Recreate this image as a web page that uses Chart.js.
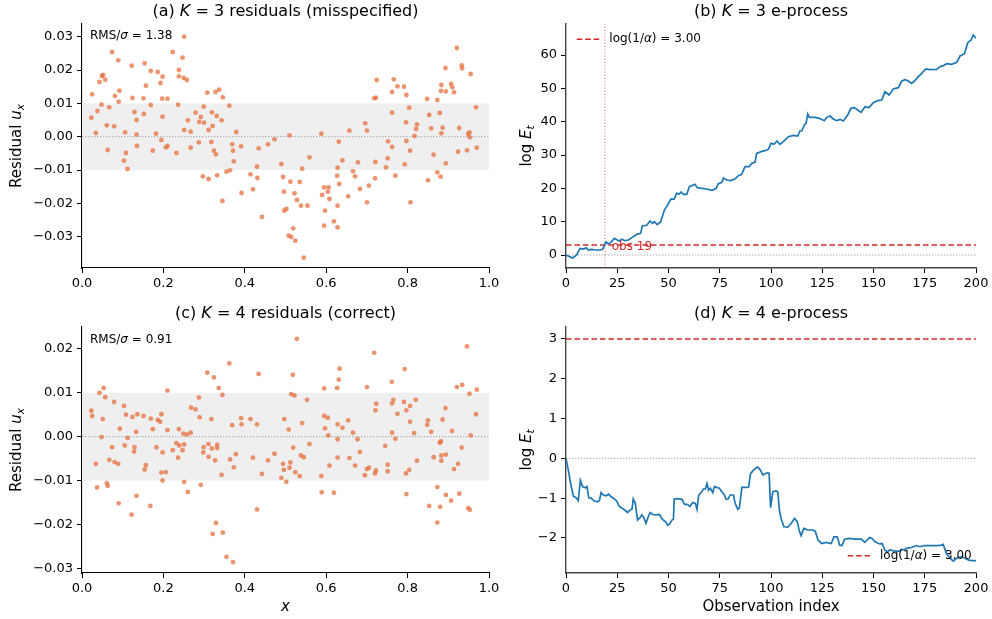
<!DOCTYPE html>
<html><head><meta charset="utf-8">
<script src="https://cdn.jsdelivr.net/npm/chart.js@4.4.1/dist/chart.umd.min.js"></script>
<style>
html,body{margin:0;padding:0;background:#fff;}
#fig{position:relative;width:992px;height:619px;overflow:hidden;background:#fff;}
canvas{position:absolute;}
</style></head><body>
<div id="fig">
<canvas id="ca" width="520" height="300" style="left:0;top:0"></canvas>
<canvas id="cb" width="496" height="300" style="left:496px;top:0"></canvas>
<canvas id="cc" width="520" height="319" style="left:0;top:300px"></canvas>
<canvas id="cd" width="496" height="319" style="left:496px;top:300px"></canvas>
</div>
<script>
// ---------- data: panel (a) K=3 residuals ----------
const aX = [0.251,0.074,0.223,0.089,0.247,0.122,0.154,0.169,0.186,0.238,0.052,0.049,0.057,0.043,0.198,0.238,0.250,0.258,0.193,0.157,0.025,0.092,0.081,0.090,0.124,0.151,0.197,0.210,0.308,0.328,0.337,0.048,0.169,0.236,0.067,0.299,0.038,0.129,0.152,0.279,0.319,0.023,0.198,0.292,0.331,0.134,0.260,0.288,0.300,0.061,0.079,0.321,0.251,0.311,0.034,0.106,0.267,0.134,0.182,0.195,0.287,0.318,0.135,0.210,0.206,0.267,0.063,0.174,0.324,0.329,0.108,0.232,0.103,0.112,0.297,0.311,0.332,
0.346,0.362,0.343,0.379,0.369,0.371,0.391,0.373,0.364,0.355,0.345,0.392,0.414,0.420,0.430,0.431,0.434,0.442,0.457,0.473,0.490,0.494,0.496,0.497,0.502,0.510,0.512,0.519,0.508,0.514,0.524,0.522,0.528,0.535,0.538,0.541,0.545,0.554,0.559,0.588,0.590,0.595,0.597,0.595,0.604,0.606,0.608,0.619,0.628,0.628,0.627,0.628,0.631,0.632,0.640,0.654,0.657,0.666,0.671,0.678,0.683,
0.700,0.705,0.696,0.700,0.718,0.722,0.724,0.721,0.720,0.752,0.762,0.751,0.747,0.770,0.762,0.762,0.766,0.775,0.791,0.797,0.804,0.796,0.797,0.806,0.793,0.807,0.821,0.823,0.817,0.848,0.853,0.858,0.864,0.873,0.873,0.850,0.881,0.879,0.883,0.886,0.882,0.883,0.894,0.893,0.894,0.907,0.910,0.914,0.921,0.933,0.934,0.955,0.927,0.924,0.946,0.949,0.952,0.953,0.968,0.970];
const aY = [0.0300,0.0254,0.0254,0.0229,0.0237,0.0213,0.0220,0.0197,0.0194,0.0200,0.0185,0.0182,0.0171,0.0164,0.0180,0.0181,0.0176,0.0170,0.0161,0.0153,0.0127,0.0138,0.0122,0.0105,0.0116,0.0115,0.0114,0.0114,0.0132,0.0134,0.0141,0.0096,0.0095,0.0096,0.0088,0.0090,0.0077,0.0074,0.0068,0.0072,0.0073,0.0057,0.0060,0.0059,0.0062,0.0050,0.0049,0.0044,0.0042,0.0034,0.0031,0.0032,0.0020,0.0020,0.0011,0.0013,0.0015,0.0006,0.0009,-0.0010,-0.0017,-0.0016,-0.0028,-0.0028,-0.0032,-0.0033,-0.0040,-0.0042,-0.0042,-0.0053,-0.0049,-0.0049,-0.0072,-0.0097,-0.0119,-0.0127,-0.0116,
0.0118,0.0093,0.0049,0.0014,-0.0023,-0.0042,-0.0029,-0.0074,-0.0101,-0.0105,-0.0193,-0.0169,-0.0113,-0.0158,-0.0090,-0.0124,-0.0035,-0.0241,-0.0023,-0.0008,-0.0082,-0.0121,-0.0165,-0.0222,-0.0217,0.0004,-0.0135,-0.0275,-0.0297,-0.0301,-0.0312,-0.0170,-0.0190,-0.0136,-0.0207,-0.0096,-0.0363,-0.0207,-0.0062,0.0009,-0.0175,-0.0152,-0.0222,-0.0267,-0.0165,-0.0152,-0.0187,-0.0254,-0.0272,-0.0207,-0.0117,-0.0093,-0.0015,-0.0142,-0.0071,-0.0179,0.0018,-0.0104,-0.0119,-0.0077,-0.0157,
-0.0197,-0.0147,0.0040,0.0018,0.0115,0.0117,0.0170,-0.0076,-0.0125,-0.0014,-0.0031,-0.0065,-0.0092,-0.0117,0.0072,0.0134,0.0172,0.0151,0.0150,0.0125,0.0087,0.0043,-0.0013,-0.0042,-0.0083,-0.0197,0.0023,0.0037,0.0002,0.0113,0.0065,0.0025,-0.0054,0.0110,-0.0107,-0.0131,-0.0120,0.0071,0.0010,0.0027,0.0137,0.0155,0.0136,0.0206,-0.0080,0.0158,0.0148,0.0133,0.0266,0.0214,0.0205,0.0188,0.0026,-0.0045,-0.0041,0.0008,0.0013,-0.0002,0.0088,-0.0033];

// ---------- data: panel (c) K=4 residuals ----------
const cX = [0.308,0.324,0.336,0.053,0.043,0.057,0.079,0.210,0.287,0.023,0.025,0.051,0.103,0.108,0.124,0.136,0.151,0.169,0.186,0.192,0.195,0.268,0.279,0.289,0.318,0.093,0.133,0.174,0.210,0.238,0.249,0.258,0.267,0.048,0.112,0.074,0.105,0.129,0.128,0.183,0.198,0.223,0.232,0.239,0.247,0.251,0.236,0.299,0.298,0.311,0.319,0.311,0.327,0.332,0.332,0.034,0.067,0.080,0.089,0.154,0.157,0.195,0.206,0.198,0.251,0.260,0.292,0.037,0.061,0.063,0.090,0.134,0.168,0.122,0.329,0.321,
0.345,0.362,0.434,0.528,0.518,0.514,0.522,0.553,0.369,0.391,0.392,0.414,0.430,0.497,0.508,0.541,0.364,0.378,0.373,0.343,0.420,0.457,0.473,0.442,0.519,0.494,0.496,0.512,0.510,0.490,0.502,0.524,0.535,0.538,0.545,0.559,0.430,0.346,0.355,0.371,0.595,0.627,0.631,0.633,0.595,0.604,0.597,0.605,0.628,0.640,0.654,0.666,0.677,0.628,0.628,0.657,0.608,0.671,0.683,0.588,0.589,0.619,
0.718,0.700,0.793,0.761,0.723,0.721,0.765,0.762,0.775,0.791,0.797,0.806,0.820,0.806,0.762,0.770,0.816,0.745,0.751,0.751,0.700,0.705,0.695,0.722,0.720,0.804,0.796,0.823,0.797,0.848,0.850,0.858,0.893,0.886,0.909,0.879,0.882,0.864,0.883,0.894,0.883,0.914,0.924,0.933,0.955,0.921,0.934,0.952,0.970,0.946,0.968,0.873,0.894,0.907,0.927,0.853,0.880,0.949,0.953,0.873];
const cY = [0.0146,0.0135,0.0111,0.0111,0.0100,0.0090,0.0079,0.0105,0.0089,0.0059,0.0047,0.0040,0.0070,0.0050,0.0045,0.0051,0.0047,0.0041,0.0038,0.0034,0.0051,0.0066,0.0062,0.0044,0.0040,0.0018,0.0011,0.0017,0.0015,0.0017,0.0007,0.0005,0.0009,-0.0001,-0.0003,-0.0024,-0.0020,-0.0024,-0.0034,-0.0024,-0.0036,-0.0031,-0.0015,-0.0020,-0.0031,-0.0018,-0.0048,-0.0024,-0.0036,-0.0017,-0.0027,-0.0046,-0.0054,-0.0019,-0.0026,-0.0062,-0.0053,-0.0058,-0.0062,-0.0075,-0.0065,-0.0082,-0.0081,-0.0100,-0.0103,-0.0126,-0.0110,-0.0116,-0.0106,-0.0112,-0.0152,-0.0135,-0.0158,-0.0178,-0.0197,-0.0222,
0.0095,0.0167,0.0143,0.0223,0.0141,0.0097,0.0094,0.0084,0.0026,0.0042,0.0028,0.0040,0.0028,0.0040,0.0016,0.0031,-0.0052,-0.0040,-0.0070,-0.0087,-0.0048,-0.0054,-0.0039,-0.0085,-0.0025,-0.0062,-0.0076,-0.0059,-0.0071,-0.0094,-0.0103,-0.0081,-0.0090,-0.0043,-0.0047,-0.0017,-0.0166,-0.0219,-0.0274,-0.0286,0.0110,0.0111,0.0130,0.0155,0.0047,0.0043,0.0019,0.0003,0.0028,0.0020,0.0037,0.0009,-0.0006,-0.0006,-0.0048,-0.0049,-0.0066,-0.0066,-0.0035,-0.0090,-0.0127,-0.0128,
0.0191,0.0113,0.0154,0.0125,0.0075,0.0060,0.0084,0.0076,0.0052,0.0079,0.0060,0.0070,0.0084,0.0034,0.0009,-0.0005,0.0008,-0.0021,-0.0064,-0.0079,-0.0074,-0.0071,-0.0088,-0.0077,-0.0084,-0.0076,-0.0084,-0.0055,-0.0131,0.0027,0.0037,0.0011,0.0065,0.0039,0.0013,-0.0014,-0.0011,-0.0047,-0.0043,-0.0041,-0.0055,-0.0074,-0.0062,-0.0025,0.0003,0.0113,0.0118,0.0098,0.0107,0.0206,0.0051,-0.0115,-0.0133,-0.0146,-0.0130,-0.0158,-0.0160,-0.0163,-0.0167,-0.0196];

// ---------- data: panel (b) K=3 e-process (log E_t) ----------
const bT = [0,3.3,5.2,6.8,8.5,9.8,10.9,12.5,14.1,16.6,17.9,18.7,19.5,20.6,21.8,23.6,25,26,27.2,28.8,30.4,31.6,32.8,34.5,36.4,37.2,39.4,41,42.3,43.1,44.5,46.2,48,49.4,51.2,52.7,54,55.3,56.1,57.2,58.9,60.2,62.9,64.1,66.2,68.6,71.1,73.2,74.3,76,76.8,78.4,80.3,82.4,84.1,85.7,87.3,89.4,90.6,92.2,93,95.5,97.1,98.7,100,101.6,102.9,104.4,106,108.5,110.9,113,114.1,115,116.3,117.1,117.9,118.7,121.5,123.6,126,127.2,128.8,130.4,132,133.7,135.3,137.4,139,140.6,142.3,143.9,145.9,147.8,149.9,152,154,155.6,157.6,159.7,162.1,163.8,165.4,167,168.6,170.2,171.9,173.5,175.5,177.6,180.8,182.4,184,185.7,188.1,190.6,192.2,194.3,196,197.6,198.7,200];
const bV = [0,-0.9,0,2.0,1.8,2.2,1.5,1.7,1.5,1.5,1.7,2.9,3.9,3.3,3.7,5.0,4.5,4.2,4.7,4.3,4.5,5.0,5.5,6.2,6.5,8.7,8.9,10.2,9.5,10.0,9.1,10.0,13.5,14.8,16.8,16.7,18.5,18.3,18.9,18.2,18.2,20.5,21.2,20.2,20.0,19.8,19.4,19.9,21.4,21.8,23.1,22.5,22.3,22.8,23.8,24.2,26.5,26.5,27.5,27.8,30.5,31.1,31.3,31.7,33.5,33.3,34.2,33.2,34.0,35.5,35.9,35.7,37.2,37.2,39.0,39.5,42.3,41.3,41.3,41.0,40.3,41.3,41.7,40.8,40.3,40.7,40.2,42.0,44.0,44.2,43.5,42.8,44.5,44.2,45.7,46.3,46.5,49.0,48.0,49.8,50.2,52.2,52.6,52.2,51.5,52.3,53.5,54.5,55.8,55.6,55.7,56.5,56.8,57.4,57.2,57.8,59.7,60.3,63.7,64.5,66.0,65.0];

// ---------- data: panel (d) K=4 e-process (log E_t) ----------
const dT = [0,1.3,2.4,3.6,4.9,6,7,8.1,9.4,10.2,11.1,12.2,13.8,15.4,16.3,17.1,18.2,19.5,20.8,21.9,23.1,24.7,26,27.6,28.9,30.1,31.2,32.2,32.8,33.8,34.9,36.1,37,37.8,39,39.8,41,42.3,43.9,45.6,46.7,47.5,48.5,49.6,50.4,51.7,52.4,52.8,54.5,56.6,57.7,59.4,60.5,61.8,63.1,63.9,64.7,65.9,67,68,68.8,69.6,70.4,71.6,72.4,73.5,74.8,76,77.3,78.1,79.1,80.1,81.7,82.5,83.8,84.6,85.8,87.9,89.1,90,91.2,92.5,93.6,94.8,96.1,97.4,98.5,
99.1,99.8,100.9,102.5,103.3,104.1,104.9,106.3,108.2,109.9,111.5,112.8,113.9,114.7,116,118,120.4,121.6,122.9,124.8,126.9,129.4,130.7,132.3,133.5,134.6,135.9,138.3,140.8,144.1,145.7,147,148.1,149.3,150.6,153,154.2,155.5,156.8,157.9,160.4,162.8,163.6,165,166.1,168.5,171,172.6,174.7,176.7,178.3,181.5,183.2,184,185.6,187.3,188.9,190.5,193,194.6,196.2,197.8,200];
const dV = [0,-0.34,-0.67,-0.95,-0.99,-1.06,-0.55,-0.71,-0.74,-0.71,-0.99,-1.0,-1.07,-1.09,-1.06,-0.86,-0.92,-0.94,-0.9,-0.96,-1.0,-1.07,-1.21,-1.26,-1.31,-1.36,-1.3,-1.27,-1.02,-1.13,-1.55,-1.49,-1.42,-1.47,-1.63,-1.51,-1.36,-1.41,-1.42,-1.41,-1.51,-1.55,-1.59,-1.68,-1.66,-1.55,-1.53,-1.02,-1.01,-1.03,-1.15,-1.16,-1.21,-1.11,-1.13,-1.28,-0.93,-0.86,-0.77,-0.77,-0.63,-0.8,-0.75,-0.86,-0.71,-0.73,-0.75,-0.84,-0.92,-1.03,-1.02,-0.92,-0.92,-1.13,-1.28,-1.24,-0.73,-0.73,-0.72,-0.39,-0.31,-0.25,-0.22,-0.29,-0.42,-0.38,-0.36,
-0.38,-1.24,-0.84,-0.82,-0.84,-1.30,-1.51,-1.72,-1.73,-1.63,-1.51,-1.59,-1.84,-1.94,-1.76,-1.80,-1.80,-1.83,-2.05,-2.14,-2.11,-2.14,-1.97,-1.97,-2.18,-2.19,-2.03,-2.01,-2.03,-2.03,-2.11,-2.05,-1.99,-2.01,-2.09,-2.15,-2.14,-2.30,-2.35,-2.30,-2.33,-2.33,-2.29,-2.30,-2.26,-2.24,-2.19,-2.22,-2.19,-2.19,-2.19,-2.19,-2.18,-2.16,-2.39,-2.51,-2.58,-2.51,-2.47,-2.51,-2.55,-2.57,-2.57];

// ---------- reference values & ticks ----------
const bandLimits = [-0.01, 0.01];
const logInvAlpha = 3.00;
const stopObs = 19;
const rmsA = "1.38", rmsC = "0.91";
const resXTicks = [0, 0.2, 0.4, 0.6, 0.8, 1.0];
const aYTicks = [-0.03, -0.02, -0.01, 0, 0.01, 0.02, 0.03];
const cYTicks = [-0.03, -0.02, -0.01, 0, 0.01, 0.02];
const obsTicks = [0, 25, 50, 75, 100, 125, 150, 175, 200];
const bYTicks = [0, 10, 20, 30, 40, 50, 60];
const dYTicks = [-2, -1, 0, 1, 2, 3];
const ranges = { a:[-0.0394, 0.0338], b:[-3.9, 69.3], c:[-0.0311, 0.0250], d:[-2.88, 3.30] };

// ---------- helpers ----------
const FONT = "'DejaVu Sans', sans-serif";
const MINUS = "\u2212";
const fmt = d => v => (v < 0 ? MINUS : "") + Math.abs(v).toFixed(d);
const pts = (xs, ys) => xs.map((x, i) => ({x, y: ys[i]}));

function richWidth(ctx, segs, size){
  let w = 0;
  segs.forEach(s => { ctx.font = (s.i ? "italic " : "") + (s.sub ? size*0.7 : size) + "px " + FONT; w += ctx.measureText(s.t).width; });
  return w;
}
function drawRich(ctx, segs, x, y, size, align, color, rot){
  ctx.save();
  ctx.translate(x, y);
  if (rot) ctx.rotate(rot);
  const w = richWidth(ctx, segs, size);
  let cx = align === "center" ? -w/2 : (align === "right" ? -w : 0);
  ctx.fillStyle = color; ctx.textBaseline = "middle"; ctx.textAlign = "left";
  segs.forEach(s => {
    const fs = s.sub ? size*0.7 : size;
    ctx.font = (s.i ? "italic " : "") + fs + "px " + FONT;
    ctx.fillText(s.t, cx, s.sub ? size*0.28 : 0);
    cx += ctx.measureText(s.t).width;
  });
  ctx.restore();
}
function dashLegend(ctx, x0, x1, y, segs, tx){
  ctx.save();
  ctx.strokeStyle = "#d62728"; ctx.lineWidth = 1.6; ctx.setLineDash([5.5, 3]);
  ctx.beginPath(); ctx.moveTo(x0, y); ctx.lineTo(x1, y); ctx.stroke();
  ctx.restore();
  drawRich(ctx, segs, tx, y, 12, "left", "#000");
}

function axisCfg(min, max, ticks, f, isX, size, border){
  const c = {
    type: "linear", min, max,
    afterBuildTicks: s => { s.ticks = ticks.map(v => ({value: v})); },
    ticks: { font: {family: FONT, size: 13}, color: "#000", padding: isX ? 3 : 4, maxRotation: 0, autoSkip: false, callback: v => f(v) },
    grid: { drawOnChartArea: false, drawTicks: true, tickLength: 5, tickWidth: 1, tickColor: "#000" },
    border: { display: true, color: border.color, width: border.width }
  };
  if (isX) c.afterFit = s => { s.height = size; s.paddingLeft = 0; s.paddingRight = 0; };
  else c.afterFit = s => { s.width = size; s.paddingTop = 0; s.paddingBottom = 0; };
  return c;
}

function panel(id, p){
  const plugin = {
    id: "annot",
    beforeDatasetsDraw(chart){
      if (!p.band) return;
      const {ctx, chartArea: a, scales: {y}} = chart;
      const yt = y.getPixelForValue(p.band[1]), yb = y.getPixelForValue(p.band[0]);
      ctx.save(); ctx.fillStyle = "#efefef"; ctx.fillRect(a.left, yt, a.right - a.left, yb - yt); ctx.restore();
    },
    afterDraw(chart){
      const {ctx, chartArea: a} = chart;
      drawRich(ctx, p.title, (a.left + a.right)/2, p.titleY, 16, "center", "#000");
      drawRich(ctx, p.ylabel, p.ylabelX, (a.top + a.bottom)/2, 15, "center", "#000", -Math.PI/2);
      if (p.xlabel) drawRich(ctx, p.xlabel, (a.left + a.right)/2, p.xlabelY, 15, "center", "#000");
      if (p.extra) p.extra(chart);
    }
  };
  return new Chart(document.getElementById(id), {
    type: "scatter",
    data: { datasets: p.datasets },
    options: {
      responsive: false, animation: false, devicePixelRatio: 1,
      layout: { padding: { left: 0, right: p.padRight, top: p.padTop, bottom: 0 } },
      plugins: { legend: {display: false}, tooltip: {enabled: false}, title: {display: false} },
      scales: {
        x: axisCfg(p.xr[0], p.xr[1], p.xTicks, p.xFmt, true, p.xAxisH, p.border),
        y: axisCfg(p.yr[0], p.yr[1], p.yTicks, p.yFmt, false, p.yAxisW, p.border)
      }
    },
    plugins: [plugin]
  });
}

const scatterDs = (xs, ys) => ({ data: pts(xs, ys), pointRadius: 2.4, pointBorderWidth: 0, backgroundColor: "rgba(228,112,62,0.75)", showLine: false });
const hLine = (y, x0, x1, color, dash, w) => ({ data: [{x: x0, y}, {x: x1, y}], showLine: true, pointRadius: 0, borderColor: color, borderDash: dash, borderWidth: w, fill: false });
const vLine = (x, y0, y1, color, dash, w) => ({ data: [{x, y: y0}, {x, y: y1}], showLine: true, pointRadius: 0, borderColor: color, borderDash: dash, borderWidth: w, fill: false });
const curveDs = (xs, ys) => ({ data: pts(xs, ys), showLine: true, pointRadius: 0, borderColor: "#1f77b4", borderWidth: 1.7, tension: 0, fill: false });

const resLabel = [{t: "Residual "}, {t: "u", i: true}, {t: "x", i: true, sub: true}];
const logELabel = [{t: "log "}, {t: "E", i: true}, {t: "t", i: true, sub: true}];
const legendSegs = [{t: "log(1/"}, {t: "\u03b1", i: true}, {t: ") = 3.00"}];
const zeroCol = "#9a9a9a", zeroDash = [1.3, 1.7];

// (a)
panel("ca", {
  xr: [0, 1], yr: ranges.a, xTicks: resXTicks, yTicks: aYTicks, xFmt: fmt(1), yFmt: fmt(2),
  xAxisH: 32, yAxisW: 82, padTop: 24, padRight: 31, border: {color: "#000", width: 1.1},
  band: bandLimits,
  title: [{t: "(a) "}, {t: "K", i: true}, {t: " = 3 residuals (misspecified)"}], titleY: 12,
  ylabel: resLabel, ylabelX: 17,
  datasets: [scatterDs(aX, aY), hLine(0, 0, 1, zeroCol, zeroDash, 0.9)],
  extra(chart){ const a = chart.chartArea; drawRich(chart.ctx, [{t: "RMS/"}, {t: "\u03c3", i: true}, {t: " = " + rmsA}], a.left + 8, a.top + 12, 12, "left", "#000"); }
});

// (b)
panel("cb", {
  xr: [0, 200], yr: ranges.b, xTicks: obsTicks, yTicks: bYTicks, xFmt: fmt(0), yFmt: fmt(0),
  xAxisH: 32, yAxisW: 70, padTop: 24, padRight: 16, border: {color: "#444", width: 1.4},
  title: [{t: "(b) "}, {t: "K", i: true}, {t: " = 3 e-process"}], titleY: 12,
  ylabel: logELabel, ylabelX: 31,
  datasets: [curveDs(bT, bV), hLine(logInvAlpha, 0, 200, "#d62728", [5.5, 3], 1.6), hLine(0, 0, 200, zeroCol, zeroDash, 0.9), vLine(stopObs, ranges.b[0], ranges.b[1], "rgba(214,39,40,0.65)", [1.2, 2], 1)],
  extra(chart){
    const {ctx, chartArea: a, scales: {x, y}} = chart;
    dashLegend(ctx, a.left + 10.7, a.left + 33.3, a.top + 15.3, legendSegs, a.left + 43.3);
    ctx.save(); ctx.font = "12px " + FONT; ctx.fillStyle = "#d62728"; ctx.textBaseline = "middle"; ctx.textAlign = "left";
    ctx.fillText("obs " + stopObs, x.getPixelForValue(stopObs + 3.3), y.getPixelForValue(logInvAlpha) + 1.5);
    ctx.restore();
  }
});

// (c)
panel("cc", {
  xr: [0, 1], yr: ranges.c, xTicks: resXTicks, yTicks: cYTicks, xFmt: fmt(1), yFmt: fmt(2),
  xAxisH: 46, yAxisW: 82, padTop: 27, padRight: 31, border: {color: "#000", width: 1.1},
  band: bandLimits,
  title: [{t: "(c) "}, {t: "K", i: true}, {t: " = 4 residuals (correct)"}], titleY: 14,
  ylabel: resLabel, ylabelX: 17, xlabel: [{t: "x", i: true}], xlabelY: 307,
  datasets: [scatterDs(cX, cY), hLine(0, 0, 1, zeroCol, zeroDash, 0.9)],
  extra(chart){ const a = chart.chartArea; drawRich(chart.ctx, [{t: "RMS/"}, {t: "\u03c3", i: true}, {t: " = " + rmsC}], a.left + 8, a.top + 13, 12, "left", "#000"); }
});

// (d)
panel("cd", {
  xr: [0, 200], yr: ranges.d, xTicks: obsTicks, yTicks: dYTicks, xFmt: fmt(0), yFmt: fmt(0),
  xAxisH: 46, yAxisW: 70, padTop: 27, padRight: 16, border: {color: "#444", width: 1.4},
  title: [{t: "(d) "}, {t: "K", i: true}, {t: " = 4 e-process"}], titleY: 14,
  ylabel: logELabel, ylabelX: 31, xlabel: [{t: "Observation index"}], xlabelY: 307,
  datasets: [curveDs(dT, dV), hLine(logInvAlpha, 0, 200, "#d62728", [5.5, 3], 1.6), hLine(0, 0, 200, zeroCol, zeroDash, 0.9)],
  extra(chart){
    const {ctx, chartArea: a} = chart;
    dashLegend(ctx, a.right - 128.3, a.right - 106, a.bottom - 17.3, legendSegs, a.right - 96);
  }
});
</script>
</body></html>
